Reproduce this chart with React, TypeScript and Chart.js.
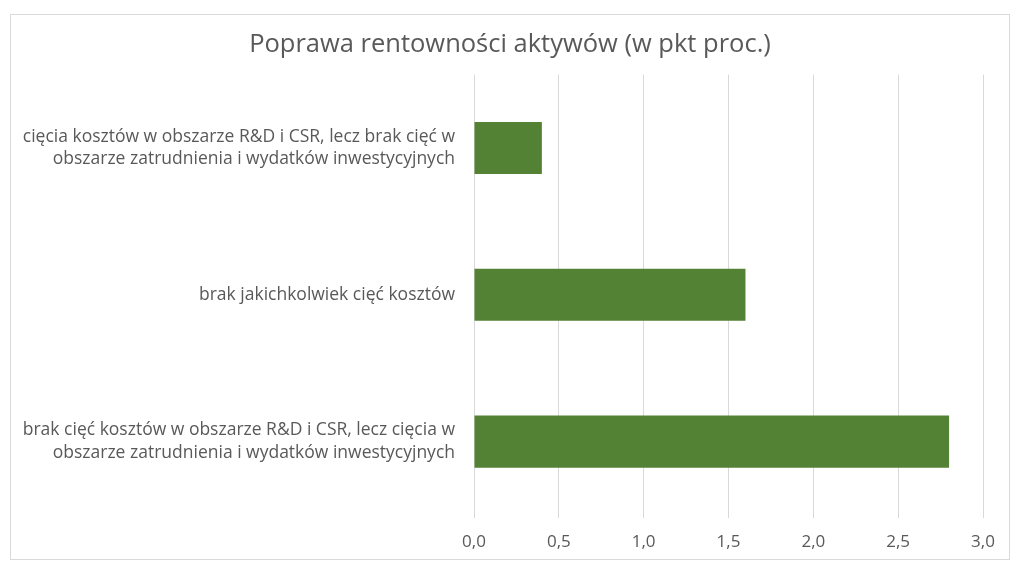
import React, { useEffect, useRef } from 'react';
import { Chart, registerables } from 'chart.js';

Chart.register(...registerables);

const title = 'Poprawa rentowności aktywów (w pkt proc.)';

const categories: string[][] = [
  ['cięcia kosztów w obszarze R&D i CSR, lecz brak cięć w', 'obszarze zatrudnienia i wydatków inwestycyjnych'],
  ['brak jakichkolwiek cięć kosztów'],
  ['brak cięć kosztów w obszarze R&D i CSR, lecz cięcia w', 'obszarze zatrudnienia i wydatków inwestycyjnych'],
];

const values = [0.4, 1.6, 2.8];

const axisMin = 0;
const axisMax = 3;
const axisStep = 0.5;

const FONT = '"Open Sans", Lato, sans-serif';
const TEXT = '#595959';
const GRID = '#d9d9d9';
const BAR = '#548235';

const App: React.FC = () => {
  const chartRef = useRef<HTMLCanvasElement | null>(null);

  useEffect(() => {
    if (!chartRef.current) return;
    const ctx = chartRef.current.getContext('2d');
    if (!ctx) return;

    const myChart = new Chart(ctx, {
      type: 'bar',
      data: {
        labels: categories,
        datasets: [
          {
            data: values,
            backgroundColor: BAR,
            borderWidth: 0,
            barPercentage: 0.355,
            categoryPercentage: 1,
          },
        ],
      },
      options: {
        indexAxis: 'y',
        responsive: true,
        maintainAspectRatio: false,
        animation: false,
        layout: { padding: { top: 6, right: 0, bottom: 4, left: 0 } },
        plugins: {
          legend: { display: false },
          tooltip: { enabled: false },
          title: {
            display: true,
            text: title,
            color: TEXT,
            font: { family: FONT, size: 25.5, weight: 'normal' },
            padding: { top: 8, bottom: 15 },
          },
        },
        scales: {
          x: {
            min: axisMin,
            max: axisMax,
            border: { display: false },
            grid: { color: GRID, drawTicks: true, tickLength: 3, tickColor: GRID },
            afterFit: (scale) => {
              scale.height = 40;
              scale.paddingRight = 26;
            },
            ticks: {
              stepSize: axisStep,
              color: TEXT,
              padding: 14,
              font: { family: FONT, size: 17 },
              callback: (v) => Number(v).toFixed(1).replace('.', ','),
            },
          },
          y: {
            border: { display: false },
            grid: { display: false, drawTicks: false },
            afterFit: (scale) => {
              scale.width = 463;
              scale.paddingTop = 0;
              scale.paddingBottom = 0;
            },
            ticks: {
              color: TEXT,
              padding: 19,
              font: { family: FONT, size: 17.5, lineHeight: 1.31 },
            },
          },
        },
      },
    });

    return () => {
      myChart.destroy();
    };
  }, []);

  return (
    <div
      style={{
        position: 'absolute',
        left: 10,
        top: 14,
        width: 1000,
        height: 546,
        border: '1px solid #d9d9d9',
        boxSizing: 'border-box',
        background: '#fff',
      }}
    >
      <canvas ref={chartRef} />
    </div>
  );
};

export default App;
